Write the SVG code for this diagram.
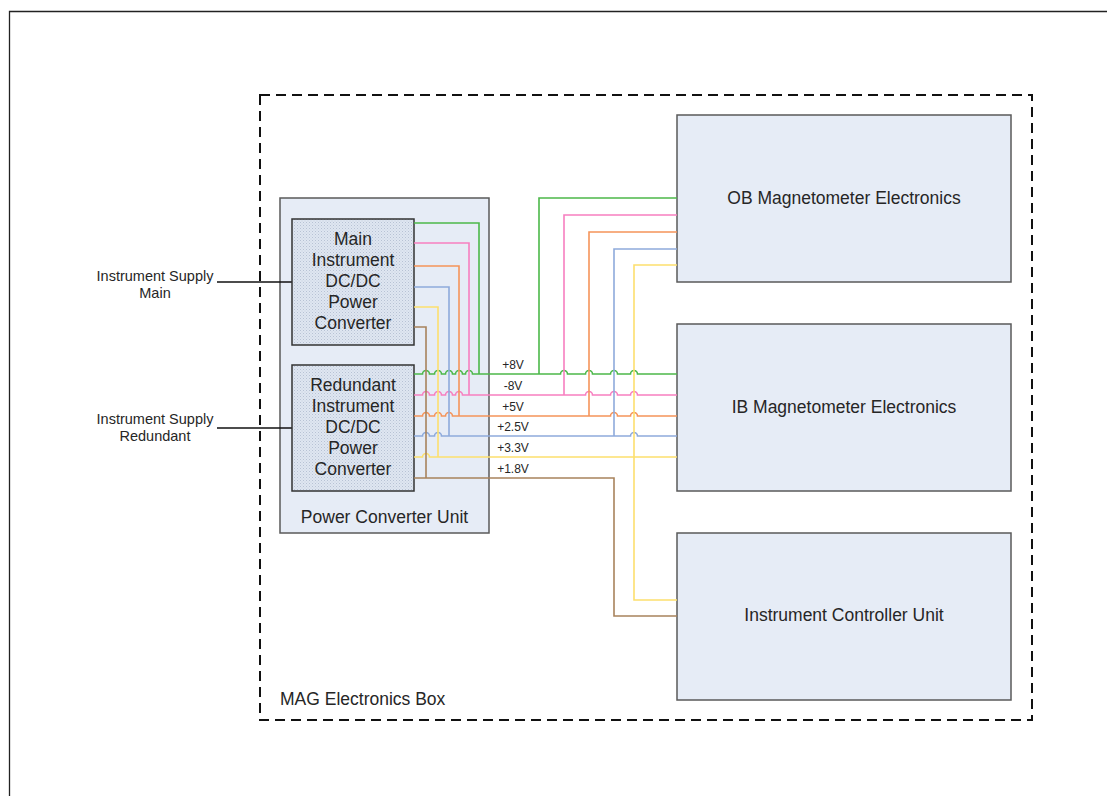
<svg xmlns="http://www.w3.org/2000/svg" width="1107" height="796" viewBox="0 0 1107 796">
  <defs>
    <pattern id="stipple" width="3" height="3" patternUnits="userSpaceOnUse">
      <rect width="3" height="3" fill="#dfe6f1"/>
      <rect x="0" y="0" width="1" height="1" fill="#b7c2d4"/>
      <rect x="1.5" y="1.5" width="1" height="1" fill="#c6cfdd"/>
    </pattern>
  </defs>
  <style>
    .lbl { font-family: "Liberation Sans", Arial, sans-serif; fill: #262626; }
    .box { font-size: 17.5px; text-anchor: middle; }
    .side { font-size: 14.5px; text-anchor: middle; }
    .volt { font-size: 12px; text-anchor: middle; }
    .unit { fill: #e6ecf6; stroke: #5a5a5a; stroke-width: 1.5; }
    .conv { fill: url(#stipple); stroke: #333; stroke-width: 1.5; }
    .wire { fill: none; stroke-width: 1.6; }
    .g { stroke: #4cb84a; }
    .p { stroke: #f77fc0; }
    .o { stroke: #f5945a; }
    .b { stroke: #8eaadb; }
    .y { stroke: #fddf6e; }
    .br { stroke: #a8835c; }
  </style>

  <rect width="1107" height="796" fill="#fff"/>

  <!-- page frame -->
  <path d="M9.5 796 V11.5 H1107" fill="none" stroke="#222" stroke-width="1.3"/>

  <!-- enclosure -->
  <g id="mag-box">
    <rect x="260" y="95" width="772" height="625" fill="none" stroke="#111" stroke-width="2" stroke-dasharray="10 6"/>
    <text class="lbl" x="280" y="705" font-size="17.5">MAG Electronics Box</text>
  </g>

  <g id="pcu">
    <rect class="unit" x="280" y="198" width="209" height="335"/>
    <text class="lbl box" x="384.5" y="523">Power Converter Unit</text>
  </g>

  <!-- supply inputs -->
  <g id="supply-main">
    <text class="lbl side" x="155" y="281">Instrument Supply</text>
    <text class="lbl side" x="155" y="298">Main</text>
    <line x1="217" y1="282" x2="292" y2="282" stroke="#111" stroke-width="1.5"/>
  </g>
  <g id="supply-redundant">
    <text class="lbl side" x="155" y="424">Instrument Supply</text>
    <text class="lbl side" x="155" y="441">Redundant</text>
    <line x1="217" y1="428" x2="292" y2="428" stroke="#111" stroke-width="1.5"/>
  </g>

  <g id="main-converter">
    <rect class="conv" x="292" y="219" width="122" height="126"/>
    <text class="lbl box" x="353" y="245">Main</text>
    <text class="lbl box" x="353" y="266">Instrument</text>
    <text class="lbl box" x="353" y="287">DC/DC</text>
    <text class="lbl box" x="353" y="308">Power</text>
    <text class="lbl box" x="353" y="329">Converter</text>
  </g>

  <g id="redundant-converter">
    <rect class="conv" x="292" y="365" width="122" height="126"/>
    <text class="lbl box" x="353" y="391">Redundant</text>
    <text class="lbl box" x="353" y="412">Instrument</text>
    <text class="lbl box" x="353" y="433">DC/DC</text>
    <text class="lbl box" x="353" y="454">Power</text>
    <text class="lbl box" x="353" y="475">Converter</text>
  </g>

  <g id="ob-electronics">
    <rect class="unit" x="677" y="115" width="334" height="167"/>
    <text class="lbl box" x="844" y="204">OB Magnetometer Electronics</text>
  </g>

  <g id="ib-electronics">
    <rect class="unit" x="677" y="324" width="334" height="167"/>
    <text class="lbl box" x="844" y="413">IB Magnetometer Electronics</text>
  </g>

  <g id="icu">
    <rect class="unit" x="677" y="533" width="334" height="167"/>
    <text class="lbl box" x="844" y="621">Instrument Controller Unit</text>
  </g>

  <!-- power rails -->
  <g id="connectors">
    <!-- +8V -->
    <path class="wire g" d="M414 223 H479 V374"/>
    <path class="wire g" d="M677 198 H539 V374"/>
    <path class="wire g" d="M414 374 H422.5 a3.5 3.5 0 0 1 7 0 H434.5 a3.5 3.5 0 0 1 7 0 H445.5 a3.5 3.5 0 0 1 7 0 H455.5 a3.5 3.5 0 0 1 7 0 H465.5 a3.5 3.5 0 0 1 7 0 H560.5 a3.5 3.5 0 0 1 7 0 H585.5 a3.5 3.5 0 0 1 7 0 H610.5 a3.5 3.5 0 0 1 7 0 H630.5 a3.5 3.5 0 0 1 7 0 H677"/>
    <!-- -8V -->
    <path class="wire p" d="M414 243 H469 V395"/>
    <path class="wire p" d="M677 215 H564 V395"/>
    <path class="wire p" d="M414 395 H422.5 a3.5 3.5 0 0 1 7 0 H434.5 a3.5 3.5 0 0 1 7 0 H445.5 a3.5 3.5 0 0 1 7 0 H455.5 a3.5 3.5 0 0 1 7 0 H585.5 a3.5 3.5 0 0 1 7 0 H610.5 a3.5 3.5 0 0 1 7 0 H630.5 a3.5 3.5 0 0 1 7 0 H677"/>
    <!-- +5V -->
    <path class="wire o" d="M414 266 H459 V416"/>
    <path class="wire o" d="M677 232 H589 V416"/>
    <path class="wire o" d="M414 416 H422.5 a3.5 3.5 0 0 1 7 0 H434.5 a3.5 3.5 0 0 1 7 0 H445.5 a3.5 3.5 0 0 1 7 0 H610.5 a3.5 3.5 0 0 1 7 0 H630.5 a3.5 3.5 0 0 1 7 0 H677"/>
    <!-- +2.5V -->
    <path class="wire b" d="M414 287 H449 V436"/>
    <path class="wire b" d="M677 249 H614 V436"/>
    <path class="wire b" d="M414 436 H422.5 a3.5 3.5 0 0 1 7 0 H434.5 a3.5 3.5 0 0 1 7 0 H630.5 a3.5 3.5 0 0 1 7 0 H677"/>
    <!-- +3.3V -->
    <path class="wire y" d="M414 307 H438 V457"/>
    <path class="wire y" d="M677 265 H634 V600 H677"/>
    <path class="wire y" d="M414 457 H422.5 a3.5 3.5 0 0 1 7 0 H677"/>
    <!-- +1.8V -->
    <path class="wire br" d="M414 327 H426 V478"/>
    <path class="wire br" d="M414 478 H614 V616 H677"/>

    <text class="lbl volt" x="513" y="369">+8V</text>
    <text class="lbl volt" x="513" y="390">-8V</text>
    <text class="lbl volt" x="513" y="411">+5V</text>
    <text class="lbl volt" x="513" y="431">+2.5V</text>
    <text class="lbl volt" x="513" y="452">+3.3V</text>
    <text class="lbl volt" x="513" y="473">+1.8V</text>
  </g>
</svg>
